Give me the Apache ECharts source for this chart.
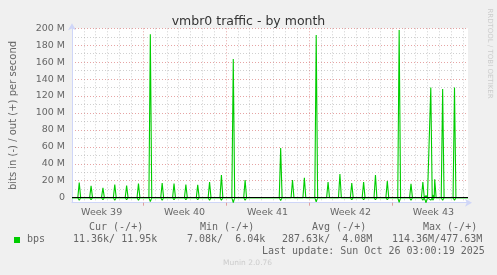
<!DOCTYPE html>
<html><head><meta charset="utf-8">
<script src="https://cdn.jsdelivr.net/npm/echarts@6/dist/echarts.min.js"></script>
<style>html,body{margin:0;padding:0;background:#f0f0f0}#c{width:497px;height:275px}</style>
</head><body><div id="c"></div>
<script>
// ---- data ----
const chartTitle = 'vmbr0 traffic - by month';
const yAxisName = 'bits in (-) / out (+) per second';
const yTicks = [0, 20, 40, 60, 80, 100, 120, 140, 160, 180, 200];          // M
const yMinorTicks = [10, 30, 50, 70, 90, 110, 130, 150, 170, 190];
const xRange = [0, 33.42];   // days
const yRange = [-6, 200];    // M
const weekCenters = [2.5, 9.5, 16.5, 23.5, 30.5];
const weekLabels = ['Week 39', 'Week 40', 'Week 41', 'Week 42', 'Week 43'];
const weekBounds = [6, 13, 20, 27];
const dayLines = [1,2,3,4,5,7,8,9,10,11,12,14,15,16,17,18,19,21,22,23,24,25,26,28,29,30,31,32,33];
const spikeDay = [0.61,1.61,2.61,3.61,4.61,5.61,6.61,7.61,8.61,9.61,10.61,11.61,12.61,13.61,14.61,
                  17.61,18.61,19.61,20.61,21.61,22.61,23.61,24.61,25.61,26.61,27.61,28.61,29.61,
                  29.88,30.28,30.45,30.61,31.28,32.28];
const outPeak = [17.7,13.8,11.5,15.4,14.2,16.5,193,17.3,16.5,15.4,15,18.5,26.8,163.7,20.9,
                 58.7,20.9,23.3,192,18.5,27.9,17.3,18.5,26.8,19.7,198,16.2,18.5,
                 2.5,130,3,21.7,128.3,130];
const inPeak = [-3,-2.5,-2.5,-3,-2.5,-3,-4.7,-3,-2.5,-2.5,-2.5,-3,-3,-6,-3,
                -3.5,-1.5,-2,-5,-2,-2,-2.5,-2.5,-2.5,-2.5,-5.5,-3,-3,
                -6,-3,-3,-2,-3,-3];
const seriesName = 'bps';
const legendHeaders = ['Cur (-/+)', 'Min (-/+)', 'Avg (-/+)', 'Max (-/+)'];
const legendValues = ['11.36k/ 11.95k', '7.08k/  6.04k', '287.63k/  4.08M', '114.36M/477.63M'];
const lastUpdate = 'Last update: Sun Oct 26 03:00:19 2025';
const rrdCredit = 'RRDTOOL / TOBI OETIKER';
const muninVersion = 'Munin 2.0.76';

// ---- build ----
const HALF = 0.12;
function buildLine(peaks) {
  const d = [[xRange[0], 0]];
  spikeDay.forEach((x, i) => {
    d.push([x - HALF, 0], [x, peaks[i]], [x + HALF, 0]);
  });
  d.push([xRange[1], 0]);
  return d;
}
const GREEN = '#00cc00';
const AXIS = '#cfd6f8';
const FONT = '#666666';
const MGRID = 'rgba(210,90,90,0.55)';
const GRID = 'rgba(150,150,150,0.45)';

const chart = echarts.init(document.getElementById('c'), null, {renderer: 'canvas'});
const mono = 'DejaVu Sans Mono';
const legendHeaderX = [89, 200, 312, 423];
const legendValueX = [73, 187, 282, 392];
const graphics = [];
legendHeaders.forEach((t, i) => graphics.push({type: 'text', left: legendHeaderX[i], top: 222,
  style: {text: t, font: '10px "' + mono + '"', fill: FONT}}));
legendValues.forEach((t, i) => graphics.push({type: 'text', left: legendValueX[i], top: 234,
  style: {text: t, font: '10px "' + mono + '"', fill: FONT}}));
graphics.push({type: 'rect', shape: {x: 14, y: 237, width: 6, height: 6}, style: {fill: GREEN}});
graphics.push({type: 'text', left: 27, top: 234, style: {text: seriesName, font: '10px "' + mono + '"', fill: FONT}});
graphics.push({type: 'text', left: 262, top: 246, style: {text: lastUpdate, font: '10px "' + mono + '"', fill: FONT}});
graphics.push({type: 'text', left: 223, top: 259, style: {text: muninVersion, font: '7.5px "DejaVu Sans"', fill: '#cccccc'}});
graphics.push({type: 'text', x: 489.5, y: 53.5, rotation: -Math.PI / 2,
  style: {text: rrdCredit, font: '7px "DejaVu Sans"', fill: '#cccccc', align: 'center', verticalAlign: 'middle'}});

chart.setOption({
  animation: false,
  backgroundColor: '#f0f0f0',
  textStyle: {fontFamily: 'DejaVu Sans'},
  title: {text: chartTitle, left: 'center', top: 10,
    textStyle: {fontSize: 12.5, fontWeight: 'normal', color: '#333', fontFamily: 'DejaVu Sans'}},
  grid: {left: 67, right: 29, top: 28.3, bottom: 72.3, show: true, backgroundColor: '#ffffff', borderWidth: 0},
  xAxis: [{
    type: 'value', min: xRange[0], max: xRange[1],
    axisLine: {show: true, onZero: false, lineStyle: {color: AXIS, width: 1}, symbol: ['none', 'arrow'], symbolSize: [6, 7], symbolOffset: [0, 4]},
    axisTick: {show: true, customValues: weekBounds, length: 3, lineStyle: {color: MGRID}},
    splitLine: {show: true, lineStyle: {color: MGRID, type: [1, 2], width: 1}},
    axisLabel: {customValues: weekCenters, margin: 5, color: FONT, fontSize: 9.5, fontFamily: 'DejaVu Sans',
      formatter: v => { const i = weekCenters.findIndex(c => Math.abs(c - v) < 1e-6); return i >= 0 ? weekLabels[i] : ''; }}
  }, {
    type: 'value', min: xRange[0], max: xRange[1],
    axisLine: {show: false}, axisLabel: {show: false},
    axisTick: {show: false, customValues: dayLines},
    splitLine: {show: true, lineStyle: {color: GRID, type: [1, 2], width: 1}}
  }],
  yAxis: [{
    type: 'value', min: yRange[0], max: yRange[1],
    name: yAxisName, nameLocation: 'middle', nameGap: 54, nameRotate: 90,
    nameTextStyle: {color: FONT, fontSize: 10, fontFamily: 'DejaVu Sans'},
    axisLine: {show: true, onZero: false, lineStyle: {color: AXIS, width: 1}, symbol: ['none', 'arrow'], symbolSize: [6, 7], symbolOffset: [0, 5]},
    axisTick: {show: false, customValues: yTicks},
    splitLine: {show: true, lineStyle: {color: MGRID, type: [1, 2], width: 1}},
    axisLabel: {customValues: yTicks, margin: 7, color: FONT, fontSize: 9.5, fontFamily: 'DejaVu Sans',
      formatter: v => v === 0 ? '0' : v + ' M'}
  }, {
    type: 'value', min: yRange[0], max: yRange[1],
    axisLine: {show: false}, axisLabel: {show: false},
    axisTick: {show: false, customValues: yMinorTicks},
    splitLine: {show: true, lineStyle: {color: GRID, type: [1, 2], width: 1}}
  }],
  series: [{
    name: 'in', type: 'line', xAxisIndex: 0, yAxisIndex: 0, data: buildLine(inPeak),
    showSymbol: false, symbol: 'none', lineStyle: {color: GREEN, width: 1.1}, z: 3
  }, {
    name: 'out', type: 'line', xAxisIndex: 0, yAxisIndex: 0, data: buildLine(outPeak),
    showSymbol: false, symbol: 'none', lineStyle: {color: GREEN, width: 1.1}, z: 3,
    markLine: {silent: true, symbol: 'none', label: {show: false}, animation: false,
      lineStyle: {color: '#000', type: 'solid', width: 1}, data: [{yAxis: 0}]}
  }],
  graphic: graphics
});
</script></body></html>
